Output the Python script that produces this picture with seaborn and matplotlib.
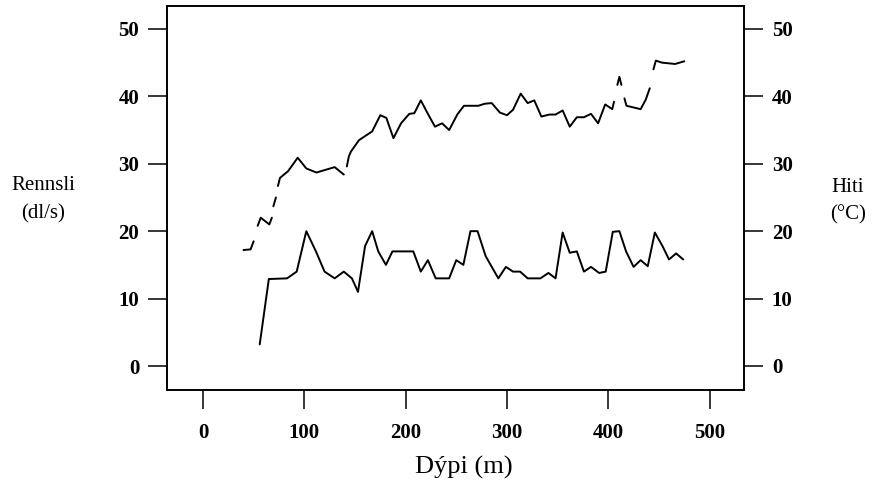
import numpy as np
import pandas as pd
import matplotlib
matplotlib.use("Agg")
import matplotlib.pyplot as plt
import seaborn as sns

# Rennsli (flow, left axis)
flow_depth = [56, 65, 83, 92.5, 102, 111.5, 120, 130, 139, 147, 153, 160, 167, 173, 180.6,
              187, 207.6, 215, 222, 229.7, 243, 250, 257, 264, 271, 279, 291.5, 299, 306,
              313, 320.5, 333, 341, 348, 355, 362, 369, 376, 383, 391, 397.5, 404.5, 411,
              417.6, 425, 432, 439, 446, 453.5, 460, 467, 474]
flow_value = [3.2, 12.9, 13, 14, 20, 17, 14, 13, 14, 13, 11, 17.8, 20, 17, 15,
              17, 17, 14, 15.7, 13, 13, 15.7, 15, 20, 20, 16.3, 13, 14.7, 14,
              14, 13, 13, 13.8, 13, 19.8, 16.8, 17, 14, 14.7, 13.8, 14, 19.9, 20,
              17, 14.7, 15.7, 14.8, 19.8, 17.8, 15.8, 16.7, 15.8]

# Hiti (temperature, right axis), broken into segments
temp_depth = [40, 47, 50,
              54, 57, 65.5, 68,
              69.5, 72,
              74, 76, 84, 93.5, 102, 112, 121, 130, 139,
              142, 144, 146, 154, 167, 175, 181, 184, 188, 195.5, 203.6, 208.6, 215, 222,
              229, 236, 243, 251, 257.6, 271.8, 278, 285, 293, 300, 306, 313.6, 320.5,
              327, 334, 342, 348, 355, 362, 369, 376, 383, 390, 397, 404, 405.7,
              409, 411, 413,
              416, 418, 432, 437, 441,
              444.6, 447, 453, 466, 475]
temp_value = [17.2, 17.3, 18.5,
              20.8, 22, 21, 22,
              23.7, 25,
              26.7, 27.9, 28.9, 30.9, 29.3, 28.7, 29.1, 29.5, 28.4,
              29.6, 31.1, 31.8, 33.5, 34.8, 37.2, 36.8, 35.5, 33.8, 36, 37.4, 37.5, 39.4, 37.4,
              35.5, 36, 35, 37.3, 38.6, 38.6, 38.9, 39, 37.6, 37.2, 38, 40.4, 39,
              39.4, 37, 37.3, 37.3, 37.9, 35.5, 36.9, 36.9, 37.4, 36, 38.8, 38.1, 39.2,
              41.7, 42.9, 41.7,
              39.7, 38.6, 38.1, 39.5, 41.2,
              44, 45.3, 45, 44.8, 45.2]
temp_segment = ([1] * 3 + [2] * 4 + [3] * 2 + [4] * 9 + [5] * 40 + [6] * 3 + [7] * 5 + [8] * 5)

x_ticks = [0, 100, 200, 300, 400, 500]
y_ticks = [0, 10, 20, 30, 40, 50]

flow_df = pd.DataFrame({"depth": flow_depth, "value": flow_value})
temp_df = pd.DataFrame({"depth": temp_depth, "value": temp_value, "seg": temp_segment})

sns.set_theme(style="ticks")
plt.rcParams["font.family"] = ["Liberation Serif", "DejaVu Serif"]
plt.rcParams["text.color"] = "black"
plt.rcParams["axes.labelcolor"] = "black"

fig = plt.figure(figsize=(8.72, 4.84), dpi=100)
ax = fig.add_axes([167 / 872, 1 - 390 / 484, (744 - 167) / 872, (390 - 6) / 484])
ax2 = ax.twinx()

sns.lineplot(data=flow_df, x="depth", y="value", ax=ax, color="black", lw=1.4,
             sort=False, estimator=None)
sns.lineplot(data=temp_df, x="depth", y="value", units="seg", ax=ax2, color="black",
             lw=1.4, sort=False, estimator=None)

for a in (ax, ax2):
    a.set_xlim(-35.5, 534)
    a.set_ylim(-3.56, 53.4)
    a.set_yticks(y_ticks)
    for s in a.spines.values():
        s.set_color("black")
        s.set_linewidth(1.2)
    a.tick_params(axis="both", direction="out", length=14, width=1.1, colors="black",
                  labelsize=15, pad=6)
    for lab in a.get_yticklabels():
        lab.set_fontweight("bold")
ax.set_xticks(x_ticks)
for lab in ax.get_xticklabels():
    lab.set_fontweight("bold")
ax.tick_params(axis="x", pad=10)

ax.set_xlabel("")
ax.set_ylabel("")
ax2.set_ylabel("")
fig.text(464 / 872, 1 - 467 / 484, "Dýpi (m)", ha="center", va="center",
         fontsize=19, color="black")
fig.text(43 / 872, 1 - 200 / 484, "Rennsli\n(dl/s)", ha="center", va="center",
         fontsize=15, linespacing=1.65, color="black")
fig.text(848 / 872, 1 - 201 / 484, "Hiti\n(°C)", ha="center", va="center",
         fontsize=15, linespacing=1.55, color="black")

fig.savefig("out.png", dpi=100, facecolor="white")
